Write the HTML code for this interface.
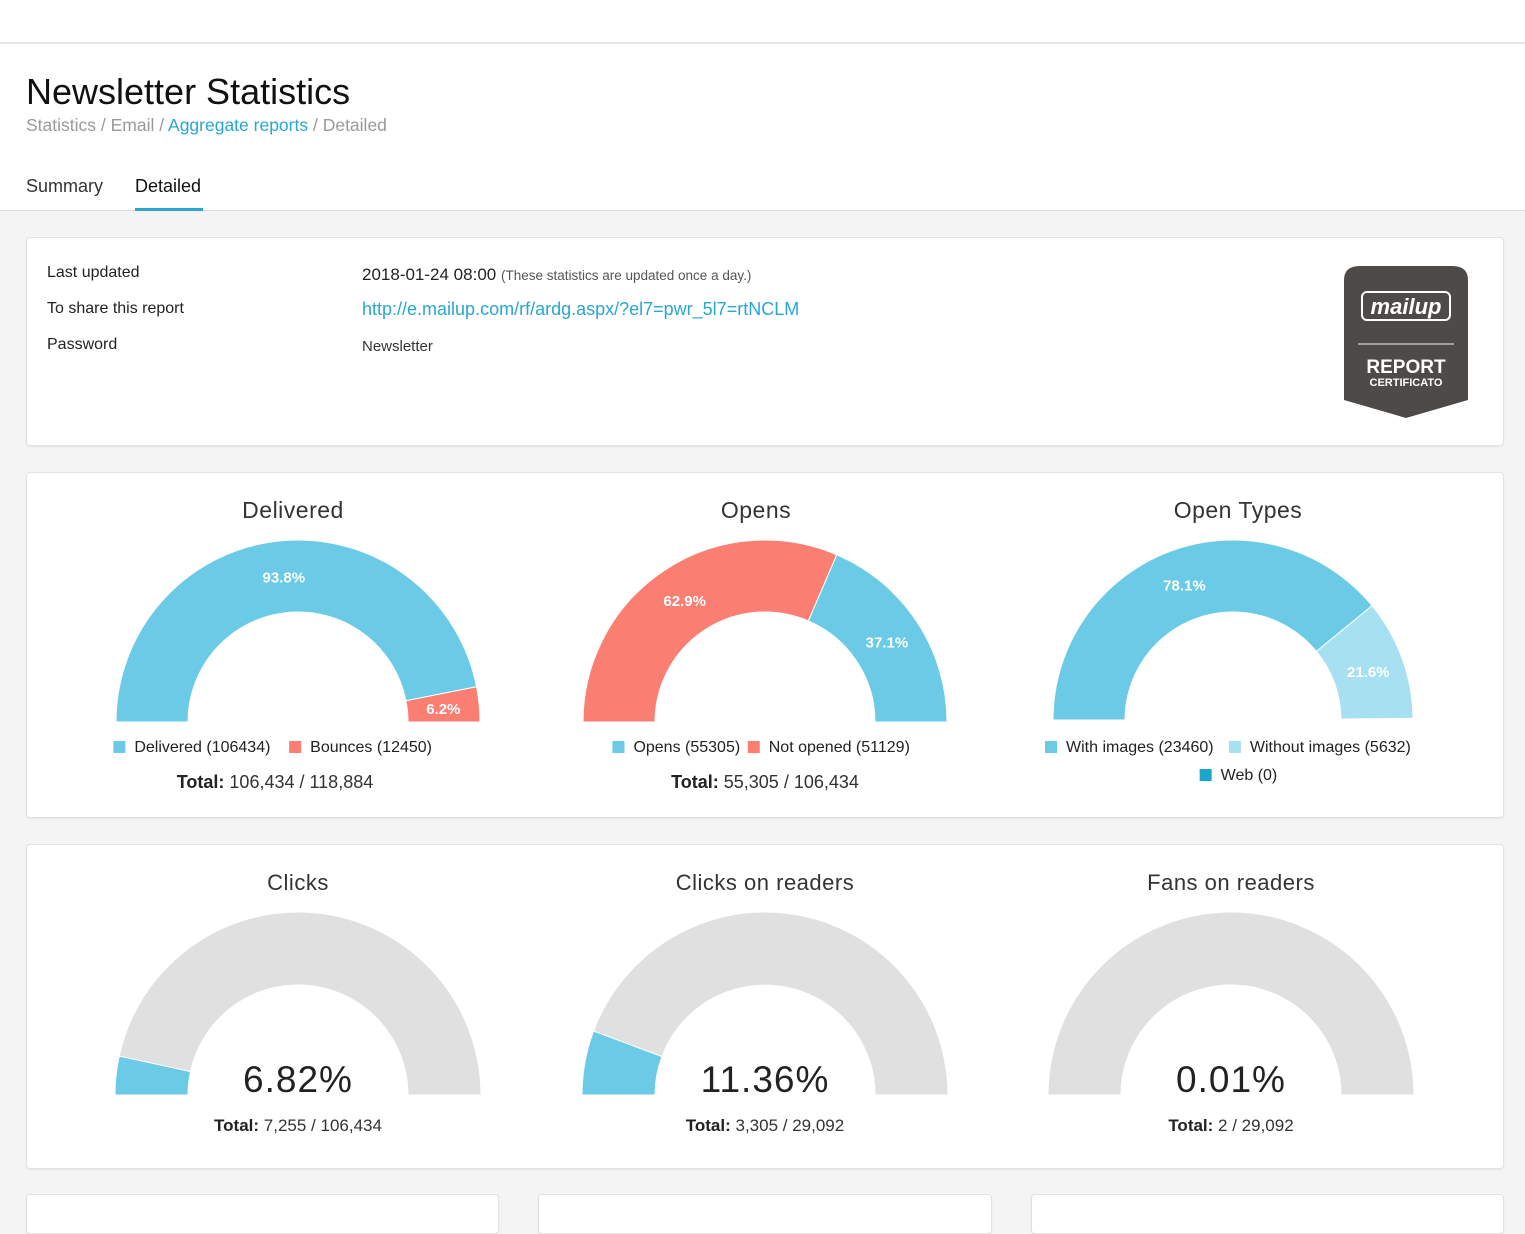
<!DOCTYPE html>
<html><head><meta charset="utf-8">
<style>
*{box-sizing:border-box;margin:0;padding:0}
body{width:1525px;height:1200px;overflow:hidden;background:#f4f4f4;font-family:"Liberation Sans",sans-serif;color:#222;position:relative}
.abs{position:absolute}
#top{left:0;top:0;width:1525px;height:211px;background:#fff;border-bottom:1px solid #dcdcdc}
#topline{left:0;top:42px;width:1525px;height:2px;background:#e6e6e6}
.card{background:#fff;border:1px solid #e2e2e2;border-radius:4px;box-shadow:0 1px 2px rgba(0,0,0,.06)}
.lbl{font-size:16px;color:#222}
svg text{font-family:"Liberation Sans",sans-serif}
</style></head><body>
<div class="abs" id="top"></div>
<div class="abs" id="topline"></div>
<div class="abs" style="left:26px;top:71px;font-size:36px;color:#111">Newsletter Statistics</div>
<div class="abs" style="left:26px;top:115px;font-size:17.5px;color:#999"><span>Statistics</span> / <span>Email</span> / <span style="color:#2aa6cf">Aggregate reports</span> / <span>Detailed</span></div>
<div class="abs" style="left:26px;top:176px;font-size:18px;color:#333">Summary</div>
<div class="abs" style="left:135px;top:176px;font-size:18px;color:#111">Detailed</div>
<div class="abs" style="left:135px;top:208px;width:68px;height:3px;background:#2aa6cf"></div>

<div class="abs card" style="left:26px;top:237px;width:1478px;height:209px"></div>
<div class="abs lbl" style="left:47px;top:264px">Last updated</div>
<div class="abs lbl" style="left:47px;top:300px">To share this report</div>
<div class="abs lbl" style="left:47px;top:336px">Password</div>
<div class="abs" style="left:362px;top:265px;font-size:17px;color:#222">2018-01-24 08:00 <span style="font-size:13.5px;color:#555">(These statistics are updated once a day.)</span></div>
<div class="abs" style="left:362px;top:299px;font-size:18px;color:#2aa6cf">http://e.mailup.com/rf/ardg.aspx/?el7=pwr_5l7=rtNCLM</div>
<div class="abs" style="left:362px;top:338px;font-size:15px;color:#333">Newsletter</div>
<svg class="abs" style="left:1340px;top:262px" width="132" height="160">
<path d="M4 18 Q4 4 20 4 L112 4 Q128 4 128 18 L128 138 L66 156 L4 138 Z" fill="#4e4a48"/>
<rect x="22" y="30" width="88" height="28" rx="5" fill="none" stroke="#fff" stroke-width="2"/>
<text x="66" y="52" text-anchor="middle" fill="#fff" font-size="22" font-weight="bold" font-style="italic">mailup</text>
<line x1="18" y1="82" x2="114" y2="82" stroke="#bbb" stroke-width="1.5"/>
<text x="66" y="111" text-anchor="middle" fill="#fff" font-size="19" font-weight="bold">REPORT</text>
<text x="66" y="124" text-anchor="middle" fill="#fff" font-size="11" font-weight="bold">CERTIFICATO</text>
</svg>

<div class="abs card" style="left:26px;top:472px;width:1478px;height:346px"></div>
<div class="abs card" style="left:26px;top:844px;width:1478px;height:325px"></div>
<div class="abs card" style="left:26px;top:1194px;width:473px;height:40px"></div>
<div class="abs card" style="left:538px;top:1194px;width:454px;height:40px"></div>
<div class="abs card" style="left:1031px;top:1194px;width:473px;height:40px"></div>

<svg id="charts" class="abs" style="left:0;top:0" width="1525" height="1200"></svg>

<script>
const deliveredPct=[93.8,6.2];
const deliveredLabels=["93.8%","6.2%"];
const opensPct=[62.9,37.1];
const opensLabels=["62.9%","37.1%"];
const openTypesPct=[78.1,21.6,0];
const openTypesLabels=["78.1%","21.6%",""];
const clicksPct=[6.82];
const clicksOnReadersPct=[11.36];
const fansOnReadersPct=[0.01];

const NS="http://www.w3.org/2000/svg";
const svg=document.getElementById('charts');
const BLUE="#6bcbe6",RED="#fb7e73",LIGHT="#a7e0f1",WEB="#1aa5cb",GREY="#e0e0e0";
function el(t,a,p){const e=document.createElementNS(NS,t);for(const k in a)e.setAttribute(k,a[k]);(p||svg).appendChild(e);return e;}
function pt(cx,cy,r,pct){const a=Math.PI*(1-pct/100);return [cx+r*Math.cos(a),cy-r*Math.sin(a)];}
function arc(cx,cy,ro,ri,p0,p1,fill,name){
  const [x0,y0]=pt(cx,cy,ro,p0),[x1,y1]=pt(cx,cy,ro,p1),[x2,y2]=pt(cx,cy,ri,p1),[x3,y3]=pt(cx,cy,ri,p0);
  const e=el('path',{d:`M${x0} ${y0} A${ro} ${ro} 0 0 1 ${x1} ${y1} L${x2} ${y2} A${ri} ${ri} 0 0 0 ${x3} ${y3}Z`,fill:fill,stroke:"#fff","stroke-width":1});
  
  
}
function txt(x,y,s,attrs,name){const t=el('text',Object.assign({x:x,y:y,'text-anchor':'middle'},attrs));t.textContent=s;
  
  return t;}
function pie(cx,cy,ro,ri,pcts,labels,colors,prefix){
  let acc=0;
  pcts.forEach((p,i)=>{
    if(p>0)arc(cx,cy,ro,ri,acc,acc+p,colors[i],prefix+'-slice-'+i);
    if(labels[i]){const [lx,ly]=pt(cx,cy,(ro+ri)/2,acc+p/2);txt(lx,ly+6,labels[i],{fill:"#fff","font-size":15,"font-weight":"bold"},prefix+'-label-'+i);}
    acc+=p;
  });
}
function gauge(cx,cy,pct,title,total,prefix){
  txt(cx,890,title,{fill:"#333","font-size":22,"letter-spacing":"0.5"},prefix+'-title');
  arc(cx,cy,183,110,0,100,GREY,prefix+'-track');
  arc(cx,cy,183,110,0,pct,BLUE,prefix+'-value-arc');
  txt(cx,cy-3,pct.toFixed(2)+"%",{fill:"#222","font-size":37,"letter-spacing":"1"},prefix+'-value');
  const t=txt(cx,cy+36,"",{fill:"#333","font-size":17},prefix+'-total');
  t.innerHTML='<tspan font-weight="bold" fill="#222">Total:</tspan> '+total;
}
function legend(items,y,cxCenter,prefix){
  const widths=items.map(it=>it[1].length*8.1+30);
  const tw=widths.reduce((a,b)=>a+b,0)-10;
  let x=cxCenter-tw/2;
  items.forEach((it,i)=>{
    const r=el('rect',{x:x,y:y-11,width:12,height:12,fill:it[0]});
    
    
    const t=el('text',{x:x+21,y:y,'font-size':16,fill:"#222"});t.textContent=it[1];
    
    
    x+=widths[i];
  });
}
txt(293,518,"Delivered",{fill:"#333","font-size":23,"letter-spacing":"0.5"},'delivered-title');
pie(298,722,182,110,deliveredPct,deliveredLabels,[BLUE,RED],'delivered');
legend([[BLUE,"Delivered (106434)"],[RED,"Bounces (12450)"]],752,272,'delivered');
let t=txt(275,788,"",{fill:"#333","font-size":18},'delivered-total');t.innerHTML='<tspan font-weight="bold" fill="#222">Total:</tspan> 106,434 / 118,884';

txt(756,518,"Opens",{fill:"#333","font-size":23,"letter-spacing":"0.5"},'opens-title');
pie(765,722,182,110,opensPct,opensLabels,[RED,BLUE],'opens');
legend([[BLUE,"Opens (55305)"],[RED,"Not opened (51129)"]],752,763,'opens');
t=txt(765,788,"",{fill:"#333","font-size":18},'opens-total');t.innerHTML='<tspan font-weight="bold" fill="#222">Total:</tspan> 55,305 / 106,434';

txt(1238,518,"Open Types",{fill:"#333","font-size":23,"letter-spacing":"0.5"},'open-types-title');
pie(1233,720,180,108,openTypesPct,openTypesLabels,[BLUE,LIGHT,WEB],'open-types');
legend([[BLUE,"With images (23460)"],[LIGHT,"Without images (5632)"]],752,1232,'open-types');
legend([[WEB,"Web (0)"]],780,1238,'open-types-web');

gauge(298,1095,clicksPct[0],"Clicks","7,255 / 106,434",'clicks');
gauge(765,1095,clicksOnReadersPct[0],"Clicks on readers","3,305 / 29,092",'clicks-on-readers');
gauge(1231,1095,fansOnReadersPct[0],"Fans on readers","2 / 29,092",'fans-on-readers');
</script>
</body></html>
